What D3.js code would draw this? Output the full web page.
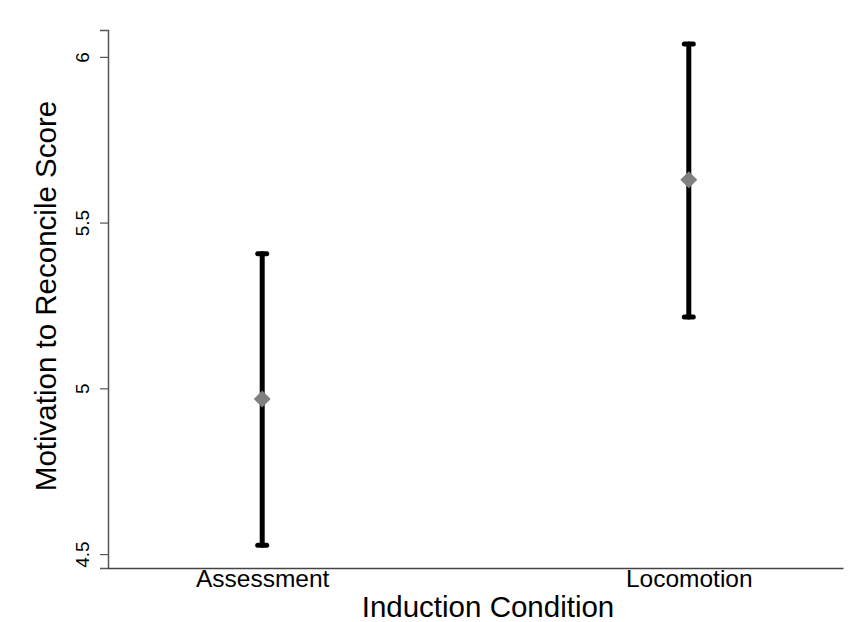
<!DOCTYPE html>
<html>
<head>
<meta charset="utf-8">
<script src="https://cdn.jsdelivr.net/npm/d3@7"></script>
<style>
  body { margin: 0; background: #fff; }
  text { font-family: "Liberation Sans", Arial, sans-serif; }
</style>
</head>
<body>
<script>
// data
let conditions = ['Assessment', 'Locomotion'];
let means = [4.968, 5.629];
let lower = [4.527, 5.215];
let upper = [5.406, 6.039];
let yTicks = [4.5, 5, 5.5, 6];

let width = 852;
let height = 622;
let margin = { top: 30, right: 9, bottom: 54, left: 108 };

let svg = d3.select(document.body).append('svg')
  .attr('width', width)
  .attr('height', height);

let x = d3.scalePoint()
  .domain(conditions)
  .range([margin.left, width - margin.right])
  .padding(0.3615);

let y = d3.scaleLinear()
  .domain([4.458, 6.081])
  .range([height - margin.bottom, margin.top]);

let rows = conditions.map((c, i) => ({ name: c, mean: means[i], lo: lower[i], hi: upper[i] }));

// y axis, labels turned on their side like the original
let yAxis = svg.append('g')
  .attr('transform', `translate(${margin.left},0)`)
  .call(d3.axisLeft(y).tickValues(yTicks).tickSize(8).tickFormat(d3.format('')));
yAxis.select('.domain').attr('stroke', '#555').attr('stroke-width', 1.5);
yAxis.selectAll('.tick line').attr('stroke', '#555').attr('stroke-width', 1.2);
yAxis.selectAll('.tick text')
  .attr('font-size', 19)
  .attr('fill', '#000')
  .attr('x', 0)
  .attr('y', 0)
  .attr('dy', '0.35em')
  .attr('text-anchor', 'middle')
  .attr('transform', 'translate(-26,0) rotate(-90)');

// x axis
let xAxis = svg.append('g')
  .attr('transform', `translate(0,${height - margin.bottom})`)
  .call(d3.axisBottom(x).tickSize(0).tickPadding(2).tickSizeOuter(0));
xAxis.select('.domain').attr('stroke', '#444').attr('stroke-width', 1.5);
xAxis.selectAll('.tick text').attr('font-size', 24.5).attr('fill', '#000');

// axis titles
svg.append('text')
  .attr('x', 488)
  .attr('y', 617)
  .attr('text-anchor', 'middle')
  .attr('font-size', 29.5)
  .text('Induction Condition');

svg.append('text')
  .attr('transform', 'translate(56,296) rotate(-90)')
  .attr('text-anchor', 'middle')
  .attr('font-size', 29.5)
  .text('Motivation to Reconcile Score');

// error bars
let bars = svg.append('g')
  .attr('stroke', '#000')
  .attr('stroke-linecap', 'round');

bars.selectAll('line.bar')
  .data(rows)
  .join('line')
    .attr('class', 'bar')
    .attr('x1', d => x(d.name))
    .attr('x2', d => x(d.name))
    .attr('y1', d => y(d.lo))
    .attr('y2', d => y(d.hi))
    .attr('stroke-width', 5);

bars.selectAll('line.cap')
  .data(rows.flatMap(d => [{ name: d.name, v: d.lo }, { name: d.name, v: d.hi }]))
  .join('line')
    .attr('class', 'cap')
    .attr('x1', d => x(d.name) - 4.5)
    .attr('x2', d => x(d.name) + 4.5)
    .attr('y1', d => y(d.v))
    .attr('y2', d => y(d.v))
    .attr('stroke-width', 5);

// means
svg.append('g')
  .selectAll('path')
  .data(rows)
  .join('path')
    .attr('d', d3.symbol(d3.symbolSquare, 144))
    .attr('transform', d => `translate(${x(d.name)},${y(d.mean)}) rotate(45)`)
    .attr('fill', '#808080');
</script>
</body>
</html>
